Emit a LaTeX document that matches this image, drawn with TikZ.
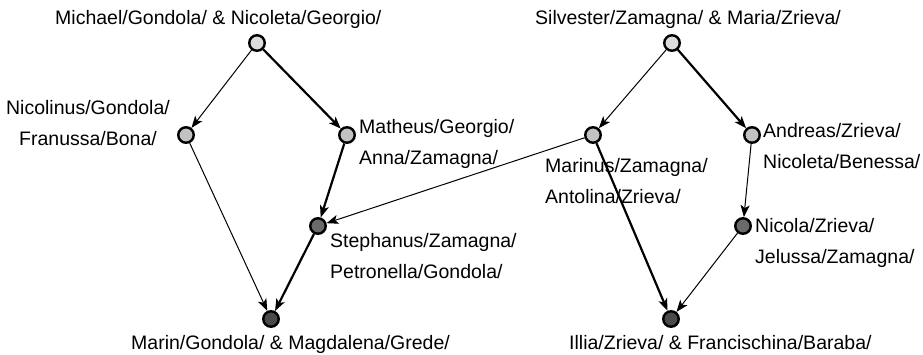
\documentclass[tikz,border=0pt]{standalone}
\usepackage{fontspec}
\setmainfont{Liberation Sans}
\usetikzlibrary{arrows.meta}

\definecolor{topgray}{HTML}{DCDCDC}
\definecolor{midgray}{HTML}{C2C2C2}
\definecolor{deepgray}{HTML}{6A6A6A}
\definecolor{lowgray}{HTML}{4A4A4A}

\tikzset{
    person/.style={circle, draw=black, line width=2.4pt, minimum size=15.5pt, inner sep=0pt},
    nametext/.style={font=\fontsize{19.5}{31}\selectfont, inner sep=0pt, text=black},
    lineage/.style={line width=1pt, -{Stealth[length=12pt, width=9pt, inset=3pt]}},
    mainline/.style={line width=2.2pt, -{Stealth[length=12pt, width=9pt, inset=3pt]}}
}

\begin{document}
\begin{tikzpicture}[x=1pt, y=-1pt]
        \useasboundingbox (0, 0) rectangle (923, 355);

        % Gondola family
        \node[person, fill=topgray] (michael) at (257, 43) {};
        \node[person, fill=midgray] (nicolinus) at (186, 135) {};
        \node[person, fill=midgray] (matheus) at (347, 135) {};
        \node[person, fill=deepgray] (stephanus) at (318, 226) {};
        \node[person, fill=lowgray] (marin) at (271, 319) {};

        % Zrieva family
        \node[person, fill=topgray] (silvester) at (672, 43) {};
        \node[person, fill=midgray] (marinus) at (593, 135) {};
        \node[person, fill=midgray] (andreas) at (752, 135) {};
        \node[person, fill=deepgray] (nicola) at (743, 226) {};
        \node[person, fill=lowgray] (illia) at (671, 319) {};

        % Names (base = last line)
        \node[nametext, anchor=base west] (michaeltxt) at (55, 25) {Michael/Gondola/ \& Nicoleta/Georgio/};
        \node[nametext, anchor=base, align=center] (nicolinustxt) at (88, 146) {Nicolinus/Gondola/\\Franussa/Bona/};
        \node[nametext, anchor=base west, align=left] (matheustxt) at (359, 165) {Matheus/Georgio/\\Anna/Zamagna/};
        \node[nametext, anchor=base west, align=left] (stephanustxt) at (330, 278) {Stephanus/Zamagna/\\Petronella/Gondola/};
        \node[nametext, anchor=base west] (marintxt) at (131, 349) {Marin/Gondola/ \& Magdalena/Grede/};

        \node[nametext, anchor=base west] (silvestertxt) at (535, 25) {Silvester/Zamagna/ \& Maria/Zrieva/};
        \node[nametext, anchor=base west, align=left] (marinustxt) at (545, 204) {Marinus/Zamagna/\\Antolina/Zrieva/};
        \node[nametext, anchor=base west, align=left] (andreastxt) at (763, 169) {Andreas/Zrieva/\\Nicoleta/Benessa/};
        \node[nametext, anchor=base west, align=left] (nicolatxt) at (755, 263) {Nicola/Zrieva/\\Jelussa/Zamagna/};
        \node[nametext, anchor=base west] (illiatxt) at (569, 349) {Illia/Zrieva/ \& Francischina/Baraba/};

        % Descent lines
        \draw[lineage] (michael) -- (nicolinus);
        \draw[mainline] (michael) -- (matheus);
        \draw[lineage] (nicolinus) -- (marin);
        \draw[mainline] (matheus) -- (stephanus);
        \draw[mainline] (stephanus) -- (marin);

        \draw[lineage] (silvester) -- (marinus);
        \draw[mainline] (silvester) -- (andreas);
        \draw[lineage] (marinus) -- (stephanus);
        \draw[mainline] (marinus) -- (illia);
        \draw[lineage] (andreas) -- (nicola);
        \draw[lineage] (nicola) -- (illia);

    \end{tikzpicture}
\end{document}
